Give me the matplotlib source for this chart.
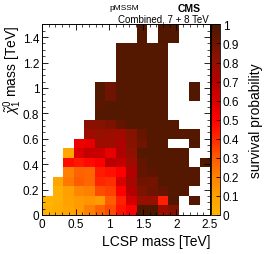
import numpy as np
import matplotlib
matplotlib.use("Agg")
import matplotlib.pyplot as plt
from matplotlib.colors import LinearSegmentedColormap
from matplotlib.ticker import MultipleLocator

plt.rcParams['font.family'] = ['Liberation Sans', 'DejaVu Sans']
plt.rcParams['mathtext.fontset'] = 'custom'
plt.rcParams['mathtext.rm'] = 'Liberation Sans'
plt.rcParams['mathtext.it'] = 'Liberation Sans:italic'

# bin edges (TeV)
lcsp_edges = np.linspace(0, 2.5, 17)
chi_edges = np.linspace(0, 1.5, 21)

N = np.nan
D = 0.97  # dark cells (survival ~1)

# survival probability, one list per chi row (bottom row first), 16 LCSP bins each
row00 = [0.02, 0.05, 0.08, 0.12, 0.20, 0.28, 0.33, 0.45, 0.50, 0.99, 0.99, 0.78, 0.85, N, N, N]
row01 = [0.00, 0.03, 0.09, 0.12, 0.14, 0.12, 0.30, 0.42, 0.62, 0.80, 0.79, 0.42, 0.98, N, 0.98, N]
row02 = [N, 0.03, 0.10, 0.18, 0.20, 0.33, 0.35, 0.50, 0.70, 0.86, 0.90, 0.93, D, D, N, N]
row03 = [N, 0.08, 0.22, 0.30, 0.27, 0.41, 0.39, 0.60, 0.75, 0.90, 0.89, D, D, D, D, N]
row04 = [N, N, 0.20, 0.28, 0.27, 0.43, 0.46, 0.50, 0.70, 0.93, 0.95, D, D, D, D, N]
row05 = [N, N, 0.47, 0.44, 0.48, 0.50, 0.68, 0.66, 0.77, 0.93, D, D, D, D, N, 0.98]
row06 = [N, N, 0.07, 0.60, 0.65, 0.64, 0.56, 0.72, 0.82, D, D, D, D, D, N, N]
row07 = [N, N, N, 0.55, 0.56, 0.77, 0.77, 0.72, 0.84, 0.90, D, D, N, N, 0.98, N]
row08 = [N, N, N, N, 0.78, 0.80, 0.78, 0.76, 0.84, 0.92, D, D, D, D, D, N]
row09 = [N, N, N, N, 0.83, 0.84, 0.87, 0.93, D, D, D, D, D, N, N, N]
row10 = [N, N, N, N, N, D, D, D, D, D, D, D, N, N, N, N]
row11 = [N, N, N, N, N, 0.95, D, D, D, D, D, D, N, N, N, N]
row12 = [N, N, N, N, N, D, 0.90, D, D, D, D, D, N, N, 0.98, N]
row13 = [N, N, N, N, N, D, 0.90, D, D, D, D, D, N, N, 0.98, N]
row14 = [N, N, N, N, N, N, N, D, D, D, D, D, N, N, N, N]
row15 = [N, N, N, N, N, N, N, D, D, D, D, D, N, N, N, N]
row16 = [N, N, N, N, N, N, N, D, D, D, D, D, N, N, N, N]
row17 = [N, N, N, N, N, N, N, D, D, D, D, D, N, N, N, N]
row18 = [N, N, N, N, N, N, N, N, N, 0.98, N, 0.98, 0.98, N, N, N]
row19 = [N, N, N, N, N, N, N, N, N, 0.98, N, 0.98, 0.98, N, N, N]

survival = np.array([row00, row01, row02, row03, row04, row05, row06, row07, row08, row09,
                     row10, row11, row12, row13, row14, row15, row16, row17, row18, row19])

cmap = LinearSegmentedColormap.from_list("surv", [
    (0.0, "#ffb400"), (0.1, "#ffa000"), (0.2, "#ff8000"), (0.3, "#ff5a00"),
    (0.4, "#ff2800"), (0.5, "#ff0000"), (0.6, "#d80000"), (0.7, "#b40000"),
    (0.8, "#961000"), (0.9, "#701400"), (1.0, "#4a1800")])

fig = plt.figure(figsize=(2.66, 2.55), dpi=100)
ax = fig.add_axes([42 / 266, 39 / 255, 168 / 266, 190.6 / 255])
cax = fig.add_axes([211 / 266, 39 / 255, 9 / 266, 190.6 / 255])

mesh = ax.pcolormesh(lcsp_edges, chi_edges, np.ma.masked_invalid(survival),
                     cmap=cmap, vmin=0, vmax=1)
ax.set_xlim(0, 2.5)
ax.set_ylim(0, 1.5)
ax.xaxis.set_major_locator(MultipleLocator(0.5))
ax.xaxis.set_minor_locator(MultipleLocator(0.1))
ax.yaxis.set_major_locator(MultipleLocator(0.2))
ax.yaxis.set_minor_locator(MultipleLocator(0.05))
ax.tick_params(which='both', direction='in', top=True, right=True, labelsize=8.5, pad=2)
ax.tick_params(which='major', length=4, width=0.6)
ax.tick_params(which='minor', length=2, width=0.5)
ax.set_xticks([0, 0.5, 1, 1.5, 2, 2.5])
ax.set_xticklabels(['0', '0.5', '1', '1.5', '2', '2.5'])
ax.set_yticks([0, 0.2, 0.4, 0.6, 0.8, 1, 1.2, 1.4])
ax.set_yticklabels(['0', '0.2', '0.4', '0.6', '0.8', '1', '1.2', '1.4'])
for s in ax.spines.values():
    s.set_linewidth(0.7)

ax.set_xlabel("LCSP mass [TeV]", fontsize=10, loc='right', labelpad=3)
ax.set_ylabel(r"$\tilde{\chi}^{0}_{1}$ mass [TeV]", fontsize=10, loc='top')
ax.yaxis.set_label_coords(-0.108, 1.0)

cb = fig.colorbar(mesh, cax=cax)
cb.set_ticks(np.arange(0, 1.01, 0.1))
cb.set_ticklabels(['0', '0.1', '0.2', '0.3', '0.4', '0.5', '0.6', '0.7', '0.8', '0.9', '1'])
cb.ax.tick_params(direction='in', length=3, width=0.6, labelsize=8.5, pad=2)
cb.outline.set_linewidth(0.6)
cb.set_label("survival probability", fontsize=10, labelpad=7)

fig.text(124 / 266, 1 - 9 / 255, "pMSSM", fontsize=6, ha='center', va='center')
fig.text(201 / 266, 1 - 9 / 255, "CMS", fontsize=7.5, fontweight='bold', ha='right', va='center')
fig.text(209 / 266, 1 - 20 / 255, "Combined, 7 + 8 TeV", fontsize=7, ha='right', va='center')

fig.savefig("out.png", dpi=100)
